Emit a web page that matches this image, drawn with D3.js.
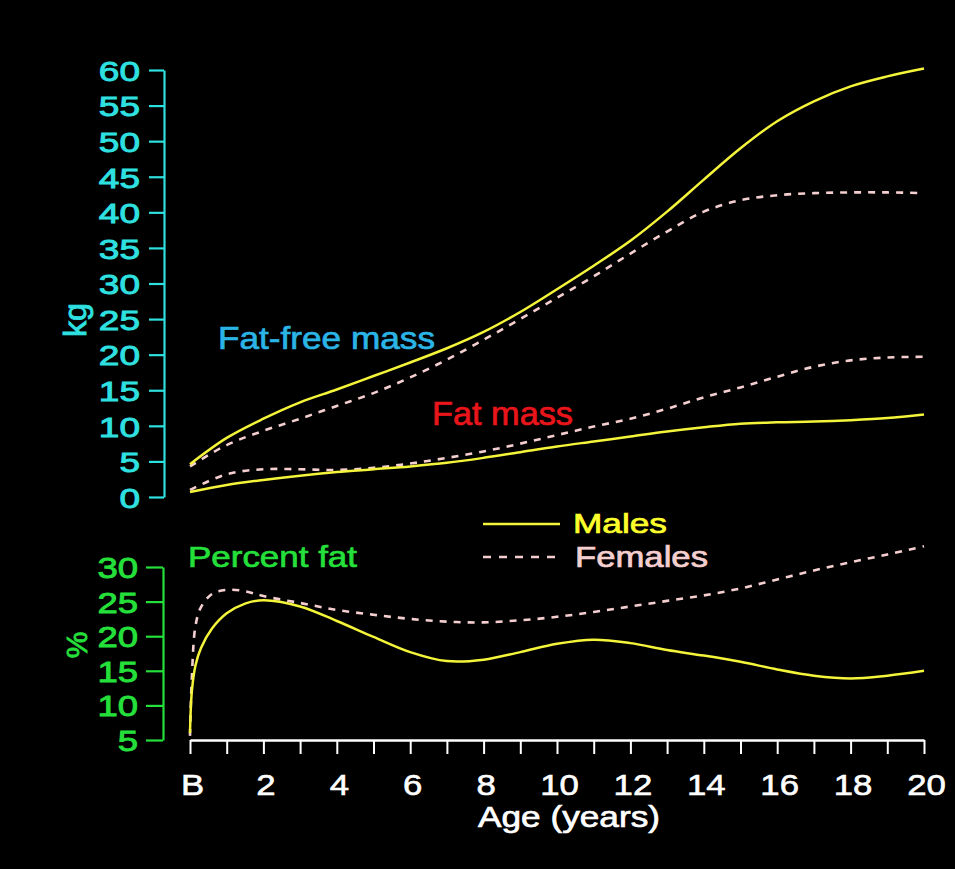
<!DOCTYPE html>
<html>
<head>
<meta charset="utf-8">
<script src="https://cdn.jsdelivr.net/npm/d3@7"></script>
<style>
  html, body { margin: 0; padding: 0; background: #000; }
  svg { display: block; }
  text { font-family: "Liberation Sans", Arial, Helvetica, sans-serif; }
</style>
</head>
<body>
<svg id="chart" width="955" height="869"></svg>
<script>
// Body composition from birth (B) to 20 years
const ageYears = [0, 1, 2, 3, 4, 5, 6, 7, 8, 9, 10, 11, 12, 13, 14, 15, 16, 17, 18, 19, 20];
const ffmMales = [4.6, 8.3, 11.0, 13.3, 15.1, 17.0, 18.9, 20.9, 23.2, 26.0, 29.2, 32.5, 36.0, 40.1, 44.6, 49.0, 52.8, 55.6, 57.7, 59.1, 60.2];
const ffmFemales = [4.3, 7.3, 9.3, 11.0, 12.8, 14.6, 16.8, 19.3, 22.1, 25.0, 28.0, 31.0, 34.2, 37.3, 40.1, 41.7, 42.4, 42.7, 42.8, 42.8, 42.7];
const fatMassMales = [0.7, 1.7, 2.4, 3.0, 3.5, 3.9, 4.3, 4.8, 5.5, 6.3, 7.1, 7.8, 8.5, 9.2, 9.8, 10.3, 10.5, 10.6, 10.8, 11.1, 11.6];
const fatMassFemales = [1.0, 3.2, 3.9, 3.9, 3.8, 4.1, 4.7, 5.5, 6.4, 7.5, 8.7, 9.9, 11.0, 12.4, 14.0, 15.4, 16.9, 18.3, 19.2, 19.6, 19.7];

const pctAges = [0, 0.05, 0.15, 0.3, 0.6, 1, 1.5, 2, 3, 4, 5, 6, 7, 8, 9, 10, 11, 12, 13, 14, 15, 16, 17, 18, 19, 20];
const pctMales = [6.0, 12.0, 15.8, 18.3, 21.1, 23.3, 24.7, 25.2, 24.3, 22.2, 19.9, 17.7, 16.4, 16.6, 17.7, 18.9, 19.5, 19.0, 18.0, 17.2, 16.3, 15.2, 14.3, 13.9, 14.3, 15.0];
const pctFemales = [5.6, 14.0, 21.5, 24.2, 26.1, 26.7, 26.5, 25.8, 24.8, 23.8, 23.1, 22.5, 22.1, 22.0, 22.3, 22.8, 23.5, 24.3, 25.1, 25.9, 26.9, 28.2, 29.5, 30.7, 31.8, 33.0];

const kgTicks = [0, 5, 10, 15, 20, 25, 30, 35, 40, 45, 50, 55, 60];
const pctTicks = [5, 10, 15, 20, 25, 30];
const ageTicks = [0, 1, 2, 3, 4, 5, 6, 7, 8, 9, 10, 11, 12, 13, 14, 15, 16, 17, 18, 19, 20];

const colors = {
  kg: "#2fe0e0",
  ffmLabel: "#2bb4e6",
  fatLabel: "#e8151b",
  pct: "#25df3a",
  males: "#f4f43a",
  malesText: "#ffff2c",
  females: "#f5cfd0",
  axis: "#ffffff"
};

const svg = d3.select("#chart");
svg.append("rect").attr("width", 955).attr("height", 869).attr("fill", "#000");

const x = d3.scaleLinear().domain([0, 20]).range([190, 924]);
const yKg = d3.scaleLinear().domain([0, 60]).range([497, 70]);
const yPct = d3.scaleLinear().domain([5, 30]).range([740, 567]);

// Heavier, horizontally widened lettering
function heavy(sel, color, w) {
  sel.attr("fill", color).attr("stroke", color).attr("stroke-width", w).attr("paint-order", "stroke");
}
function widen(sel, sx, offsetX) {
  sel.attr("transform", `scale(${sx},1)`).attr("x", offsetX / sx);
}

// kg axis
const gKg = svg.append("g").attr("transform", `translate(${164},0)`)
  .call(d3.axisLeft(yKg).tickValues(kgTicks).tickSize(15).tickSizeOuter(0).tickFormat(d3.format("d")));
gKg.select(".domain").attr("stroke", colors.kg).attr("stroke-width", 2.2);
gKg.selectAll(".tick line").attr("stroke", colors.kg).attr("stroke-width", 2.2);
gKg.selectAll(".tick text").attr("font-size", 28.5)
  .attr("font-family", "Liberation Sans, Arial, sans-serif").attr("dy", "0.36em")
  .call(heavy, colors.kg, 0.9)
  .call(widen, 1.3, -24);

// percent axis
const gPct = svg.append("g").attr("transform", `translate(${163},0)`)
  .call(d3.axisLeft(yPct).tickValues(pctTicks).tickSize(17).tickSizeOuter(0).tickFormat(d3.format("d")));
gPct.select(".domain").attr("stroke", colors.pct).attr("stroke-width", 2.2);
gPct.selectAll(".tick line").attr("stroke", colors.pct).attr("stroke-width", 2.2);
gPct.selectAll(".tick text").attr("font-size", 29)
  .attr("font-family", "Liberation Sans, Arial, sans-serif").attr("dy", "0.36em")
  .call(heavy, colors.pct, 0.9)
  .call(widen, 1.26, -25);

// age axis
const gAge = svg.append("g").attr("transform", `translate(0,${740})`)
  .call(d3.axisBottom(x).tickValues(ageTicks).tickSize(14).tickSizeOuter(0)
    .tickFormat(d => d === 0 ? "B" : (d % 2 === 0 ? String(d) : "")));
gAge.select(".domain").attr("stroke", colors.axis).attr("stroke-width", 2.4);
gAge.selectAll(".tick line").attr("stroke", colors.axis).attr("stroke-width", 2);
gAge.selectAll(".tick text").attr("font-size", 30)
  .attr("font-family", "Liberation Sans, Arial, sans-serif").attr("y", 55).attr("dy", 0)
  .call(heavy, colors.axis, 0.6)
  .attr("transform", "scale(1.16,1)").attr("x", 2 / 1.16);

// lines
const lineKg = (vals, ages) => d3.line()
  .x((d, i) => x(ages[i])).y(d => yKg(d)).curve(d3.curveCatmullRom.alpha(0.5))(vals);
const linePct = (vals, ages) => d3.line()
  .x((d, i) => x(ages[i])).y(d => yPct(d)).curve(d3.curveCatmullRom.alpha(0.5))(vals);

const series = [
  { d: lineKg(ffmFemales, ageYears), female: true },
  { d: lineKg(fatMassFemales, ageYears), female: true },
  { d: linePct(pctFemales, pctAges), female: true },
  { d: lineKg(ffmMales, ageYears), female: false },
  { d: lineKg(fatMassMales, ageYears), female: false },
  { d: linePct(pctMales, pctAges), female: false }
];
svg.append("g").selectAll("path").data(series).join("path")
  .attr("d", s => s.d)
  .attr("fill", "none")
  .attr("stroke", s => s.female ? colors.females : colors.males)
  .attr("stroke-width", s => s.female ? 2.6 : 2.5)
  .attr("stroke-dasharray", s => s.female ? "7 7" : null)
  .attr("stroke-linecap", "butt");

// labels
function label(txt, px, py, size, len, fill) {
  svg.append("text").attr("x", px).attr("y", py)
    .attr("font-size", size)
    .attr("textLength", len).attr("lengthAdjust", "spacingAndGlyphs")
    .call(heavy, fill, 0.7)
    .text(txt);
}
label("Fat-free mass", 218, 349, 32, 217, colors.ffmLabel);
label("Fat mass", 432, 425, 33, 141, colors.fatLabel);
label("Percent fat", 188, 567, 29, 169, colors.pct);
label("Males", 573, 533, 28, 94, colors.malesText);
label("Females", 575, 567, 29, 133, colors.females);
label("Age (years)", 478, 827, 30, 182, colors.axis);

// rotated axis titles
svg.append("text").attr("transform", "translate(86,320) rotate(-90)")
  .attr("text-anchor", "middle").attr("font-size", 31)
  .attr("textLength", 34).attr("lengthAdjust", "spacingAndGlyphs")
  .call(heavy, colors.kg, 0.9).text("kg");
svg.append("text").attr("transform", "translate(87,645) rotate(-90)")
  .attr("text-anchor", "middle").attr("font-size", 30)
  .call(heavy, colors.pct, 0.9).text("%");

// legend
const legend = [
  { y: 524, female: false },
  { y: 557, female: true }
];
svg.append("g").selectAll("line").data(legend).join("line")
  .attr("x1", 483).attr("x2", 560)
  .attr("y1", d => d.y).attr("y2", d => d.y)
  .attr("stroke", d => d.female ? colors.females : colors.males)
  .attr("stroke-width", 2.6)
  .attr("stroke-dasharray", d => d.female ? "8 8" : null);
</script>
</body>
</html>
